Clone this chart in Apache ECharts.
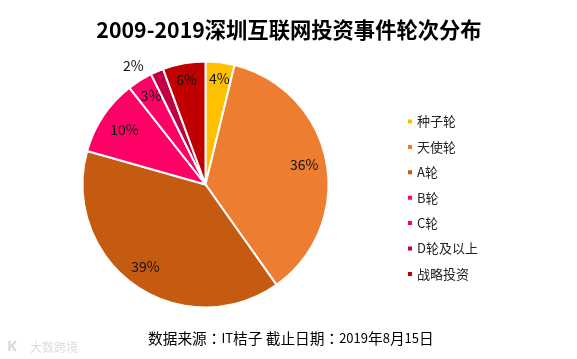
<!DOCTYPE html>
<html>
<head>
<meta charset="utf-8">
<style>
html, body { margin: 0; padding: 0; background: #fff; }
#chart { width: 577px; height: 359px; }
</style>
<script src="https://cdn.jsdelivr.net/npm/echarts@6/dist/echarts.min.js"></script>
</head>
<body>
<div id="chart"></div>
<script>
const categories = ['种子轮', '天使轮', 'A轮', 'B轮', 'C轮', 'D轮及以上', '战略投资'];
// 按扇区角度估读，四舍五入后即图上标注的百分比
const values = [3.8, 36.4, 39.2, 10, 3.3, 1.7, 5.6];
const colors = ['#FFC000', '#ED7D31', '#C55A11', '#FF0066', '#FF0066', '#C00040', '#C00000'];
// 各标签到圆心的距离，以及微调量
const labelRadius = [107, 99, 103, 99, 104, 138, 107];
const labelNudge = [[-4, 1], [-1, -2], [3, -15], [-10, -5], [1, -4], [-15, 8], [6, -2]];

const pieCenter = [205.5, 184.5];
const chart = echarts.init(document.getElementById('chart'));

chart.setOption({
    animation: false,
    title: {
        text: '2009-2019深圳互联网投资事件轮次分布',
        left: 284,
        top: 14,
        textAlign: 'center',
        textStyle: { fontFamily: 'Noto Sans CJK SC', fontSize: 21.3, fontWeight: 'bold', color: '#000' }
    },
    legend: {
        orient: 'vertical',
        left: 401,
        top: 110,
        itemWidth: 6,
        itemHeight: 6,
        itemGap: 12.4,
        icon: 'rect',
        textStyle: { fontFamily: 'Noto Sans CJK SC', fontSize: 13, color: '#222', padding: [0, 0, 0, -1] }
    },
    graphic: [{
        type: 'text',
        left: 148,
        top: 331,
        style: {
            text: '{a|数据来源：}{b|IT}{a|桔子 截止日期：}{b|2019}{a|年}{b|8}{a|月}{b|15}{a|日}',
            fill: '#000',
            rich: {
                a: { fontFamily: 'Noto Sans CJK TC', fontSize: 14.7, fill: '#000' },
                b: { fontFamily: 'Noto Sans CJK SC', fontSize: 13, fill: '#000' }
            }
        }
    }, {
        type: 'text',
        left: 7,
        top: 339,
        style: { text: 'K', fill: '#d8d8d8', font: 'bold 15px "Noto Sans"' }
    }, {
        type: 'text',
        left: 30,
        top: 341,
        style: { text: '大数跨境', fill: '#dddddd', font: '12px "Noto Sans CJK SC"' }
    }],
    series: [{
        type: 'pie',
        center: pieCenter,
        radius: [0, 123],
        startAngle: 90,
        clockwise: true,
        silent: true,
        data: categories.map((name, i) => ({ name, value: values[i], itemStyle: { color: colors[i] } })),
        itemStyle: { borderColor: '#fff', borderWidth: 2 },
        label: {
            position: 'inside',
            formatter: p => Math.round(p.value) + '%',
            fontFamily: 'Noto Sans CJK SC',
            fontSize: 14,
            color: '#111'
        },
        labelLine: { show: false },
        // 把标签沿半径方向推到靠外的位置
        labelLayout: function (params) {
            const cx = params.rect.x + params.rect.width / 2;
            const cy = params.rect.y + params.rect.height / 2;
            const vx = cx - pieCenter[0];
            const vy = cy - pieCenter[1];
            const len = Math.sqrt(vx * vx + vy * vy);
            const r = labelRadius[params.dataIndex];
            const nudge = labelNudge[params.dataIndex];
            return { dx: vx / len * (r - len) + nudge[0], dy: vy / len * (r - len) + nudge[1] };
        }
    }]
});
</script>
</body>
</html>
